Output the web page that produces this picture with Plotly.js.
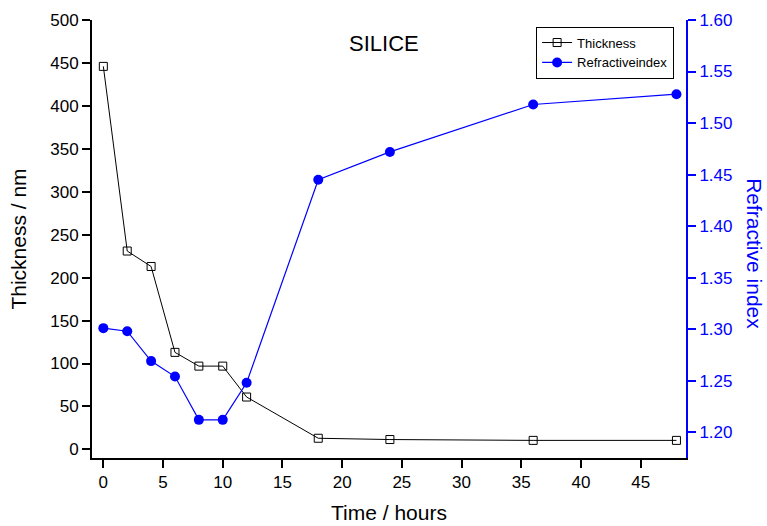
<!DOCTYPE html>
<html>
<head>
<meta charset="utf-8">
<script src="https://cdn.plot.ly/plotly-3.0.1.min.js"></script>
<style>html,body{margin:0;padding:0;background:#fff}#chart{width:767px;height:526px}</style>
</head>
<body>
<div id="chart"></div>
<script>
const timeHours = [0, 2, 4, 6, 8, 10, 12, 18, 24, 36, 48];
const thicknessNm = [446, 231, 213, 113, 97, 97, 61, 13, 11.5, 10.5, 10.5];
const refractiveIndex = [1.301, 1.298, 1.269, 1.254, 1.212, 1.212, 1.248, 1.445, 1.472, 1.518, 1.528];
const seriesNames = ["Thickness", "Refractiveindex"];
const chartTitle = "SILICE";
const xTitle = "Time / hours";
const yTitle = "Thickness / nm";
const y2Title = "Refractive index";

const FONT = "Liberation Sans, Arial, sans-serif";
const BLUE = "#0000ff";

const traces = [
  {
    x: timeHours, y: thicknessNm, name: seriesNames[0], type: "scatter", mode: "lines+markers",
    line: {color: "#000000", width: 1},
    marker: {symbol: "square-open", size: 8, color: "#000000", line: {width: 1}},
    xaxis: "x", yaxis: "y"
  },
  {
    x: timeHours, y: refractiveIndex, name: seriesNames[1], type: "scatter", mode: "lines+markers",
    line: {color: BLUE, width: 1.2},
    marker: {symbol: "circle", size: 10, color: BLUE},
    xaxis: "x", yaxis: "y2"
  }
];

const layout = {
  width: 767, height: 526,
  margin: {l: 92, r: 81, t: 20, b: 68},
  paper_bgcolor: "#fff", plot_bgcolor: "#fff",
  font: {family: FONT, size: 17, color: "#000"},
  showlegend: true,
  legend: {
    x: 0.98, y: 0.985, xanchor: "right", yanchor: "top",
    bordercolor: "#000", borderwidth: 1, bgcolor: "#fff",
    font: {family: FONT, size: 13, color: "#000"},
    tracegroupgap: 0
  },
  annotations: [
    {
      text: chartTitle, xref: "paper", yref: "paper", x: 0.491, y: 0.946, xanchor: "center", yanchor: "middle",
      showarrow: false, font: {family: FONT, size: 22, color: "#000"}
    },
    {
      text: y2Title, xref: "paper", yref: "paper", x: 1.114, y: 0.466, xanchor: "center", yanchor: "middle",
      textangle: 90, showarrow: false, borderpad: 0, font: {family: FONT, size: 21, color: BLUE}
    }
  ],
  xaxis: {
    range: [-0.95, 48.8], dtick: 5, tick0: 0,
    showgrid: false, zeroline: false,
    showline: true, linecolor: "#000", linewidth: 2,
    ticks: "outside", ticklen: 8, tickwidth: 2, tickcolor: "#000",
    tickfont: {family: FONT, size: 17, color: "#000"},
    title: {text: xTitle, font: {family: FONT, size: 21, color: "#000"}, standoff: 14},
    anchor: "y"
  },
  xaxis2: {
    matches: "x", overlaying: "x", side: "top", anchor: "y",
    showgrid: false, zeroline: false, showticklabels: false,
    showline: true, linecolor: "#000", linewidth: 1,
    ticks: "inside", ticklen: 3, tickwidth: 1, tickcolor: "#000", dtick: 5, tick0: 0
  },
  yaxis: {
    range: [-10, 500], dtick: 50, tick0: 0,
    showgrid: false, zeroline: false,
    showline: true, linecolor: "#000", linewidth: 2,
    ticks: "outside", ticklen: 8, tickwidth: 2, tickcolor: "#000",
    tickfont: {family: FONT, size: 17, color: "#000"},
    title: {text: yTitle, font: {family: FONT, size: 21, color: "#000"}, standoff: 18}
  },
  yaxis2: {
    range: [1.175, 1.60], dtick: 0.05, tick0: 1.2, tickformat: ".2f",
    overlaying: "y", side: "right", anchor: "x",
    showgrid: false, zeroline: false,
    showline: true, linecolor: BLUE, linewidth: 2,
    ticks: "outside", ticklen: 8, tickwidth: 2, tickcolor: BLUE,
    tickfont: {family: FONT, size: 17, color: BLUE}
  }
};

Plotly.newPlot("chart", traces, layout, {displayModeBar: false, staticPlot: true});
</script>
</body>
</html>
